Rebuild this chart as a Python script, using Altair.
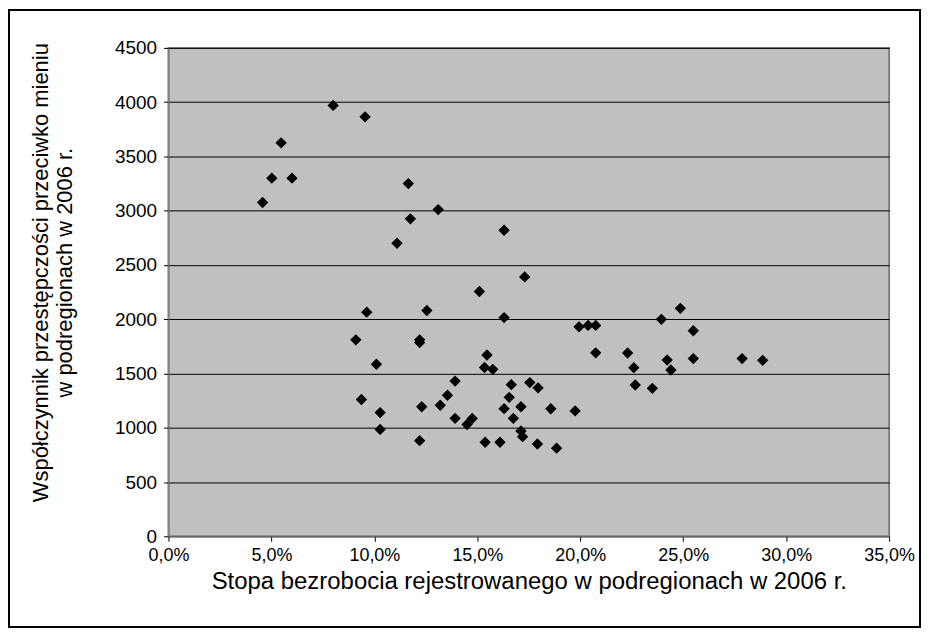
import altair as alt
import pandas as pd

unemployment = [4.57, 5.02, 5.47, 6.0, 8.0, 9.55, 11.65, 11.75, 11.1, 13.1,
                16.3, 17.3, 15.1, 9.63, 12.55, 16.3, 9.1, 12.2, 12.2, 19.94,
                20.38, 20.75, 10.1, 15.47, 15.35, 15.75, 13.92, 13.55, 13.2, 13.92,
                14.75, 14.5, 9.37, 10.28, 10.28, 12.3, 12.2, 15.38, 16.1, 16.65,
                16.55, 16.3, 17.12, 16.75, 17.12, 17.2, 17.55, 17.95, 18.57, 17.92,
                18.85, 19.75, 20.75, 22.3, 22.6, 22.67, 23.5, 23.94, 24.86, 25.49,
                24.22, 24.4, 25.49, 27.86, 28.86]
crime_rate = [3075, 3300, 3625, 3300, 3970, 3865, 3250, 2925, 2700, 3010,
              2820, 2390, 2255, 2065, 2080, 2015, 1810, 1810, 1785, 1930,
              1943, 1943, 1585, 1670, 1555, 1538, 1430, 1300, 1207, 1087,
              1085, 1030, 1260, 1140, 985, 1194, 881, 866, 866, 1397,
              1280, 1176, 1194, 1087, 970, 918, 1416, 1368, 1175, 850,
              812, 1155, 1690, 1689, 1554, 1394, 1363, 1999, 2100, 1894,
              1624, 1532, 1637, 1637, 1621]

x_ticks = [0, 5, 10, 15, 20, 25, 30, 35]
y_ticks = [0, 500, 1000, 1500, 2000, 2500, 3000, 3500, 4000, 4500]

df = pd.DataFrame({"x": unemployment, "y": crime_rate})

W, H = 723, 490
FONT = "Liberation Sans"

points = alt.Chart(df).mark_point(
    shape="diamond", filled=True, color="black", size=130, opacity=1
).encode(
    x=alt.X("x:Q",
            scale=alt.Scale(domain=[0, 35], nice=False, zero=False),
            axis=alt.Axis(
                values=x_ticks,
                labelExpr="replace(format(datum.value, '.1f'), '.', ',') + '%'",
                labelFlush=False, labelOverlap=False,
                grid=False,
                title="Stopa bezrobocia rejestrowanego w podregionach w 2006 r.",
                titleFontSize=24, titleFontWeight="normal", titlePadding=5,
                labelFontSize=18, labelPadding=5,
                tickSize=5, tickColor="black", domainColor="#808080",
                labelColor="black", titleColor="black",
                labelFont=FONT, titleFont=FONT,
            )),
    y=alt.Y("y:Q",
            scale=alt.Scale(domain=[0, 4500], nice=False),
            axis=alt.Axis(
                values=y_ticks, format="d",
                grid=True, gridColor="black", gridWidth=1, gridOpacity=1,
                title=["Współczynnik przestępczości przeciwko mieniu",
                       "w podregionach w 2006 r."],
                titleFontSize=22, titleFontWeight="normal",
                titleAngle=-90, titleAlign="center", titleBaseline="top",
                titleX=-138, titleY=H / 2 - 20, titleLineHeight=24,
                labelFontSize=19, labelPadding=7,
                tickSize=5, tickColor="black", domainColor="#808080",
                labelColor="black", titleColor="black",
                labelFont=FONT, titleFont=FONT,
            )),
)

border = alt.Chart(pd.DataFrame({"a": [0]})).mark_rect(
    fill=None, stroke="black", strokeWidth=2, clip=False
).encode(
    x=alt.value(-160), x2=alt.value(W + 31),
    y=alt.value(-38), y2=alt.value(H + 91),
)

chart = alt.layer(points, border).properties(
    width=W, height=H,
    autosize=alt.AutoSizeParams(type="none"),
    padding={"left": 161, "top": 39, "right": 34, "bottom": 96},
    background="white",
).configure_view(
    fill="#C0C0C0", stroke="#808080", strokeWidth=2
)

chart.save("out.html", embed_options={"renderer": "svg", "actions": False})
